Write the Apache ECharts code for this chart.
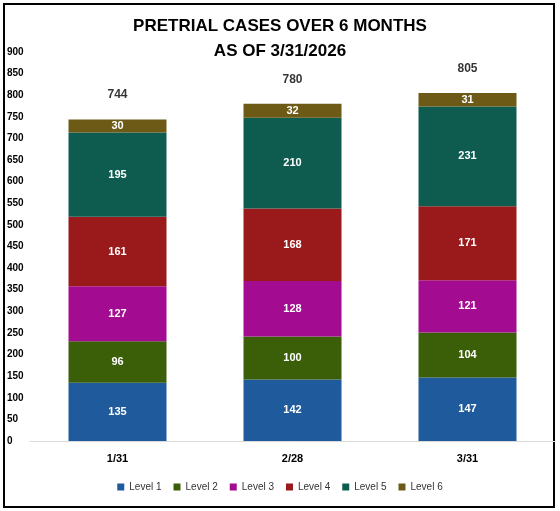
<!DOCTYPE html>
<html>
<head>
<meta charset="utf-8">
<script src="https://cdn.jsdelivr.net/npm/echarts@6/dist/echarts.min.js"></script>
<style>html,body{margin:0;padding:0;background:#fff}#c{width:560px;height:511px}</style>
</head>
<body>
<div id="c"></div>
<script>
const categories = ['1/31', '2/28', '3/31']
const level1 = [135, 142, 147]
const level2 = [96, 100, 104]
const level3 = [127, 128, 121]
const level4 = [161, 168, 171]
const level5 = [195, 210, 231]
const level6 = [30, 32, 31]
const totals = [744, 780, 805]

const levels = [
  { name: 'Level 1', data: level1, color: '#1F5A9C' },
  { name: 'Level 2', data: level2, color: '#3B5E08' },
  { name: 'Level 3', data: level3, color: '#A30B90' },
  { name: 'Level 4', data: level4, color: '#9A1A1C' },
  { name: 'Level 5', data: level5, color: '#0E5C4F' },
  { name: 'Level 6', data: level6, color: '#6D5A16' },
]

const chart = echarts.init(document.getElementById('c'))
const series = levels.map(l => ({
  name: l.name,
  type: 'bar',
  stack: 'all',
  barWidth: 98,
  data: l.data,
  itemStyle: { color: l.color },
  label: { show: true, color: '#fff', fontWeight: 'bold', fontSize: 11, fontFamily: 'Liberation Sans' },
}))
series.push({
  name: 'Total',
  type: 'scatter',
  data: totals,
  symbolSize: 1,
  itemStyle: { color: 'rgba(0,0,0,0)' },
  label: { show: true, position: 'top', distance: 18, color: '#000', fontWeight: 'bold', fontSize: 12, fontFamily: 'Liberation Sans' },
  labelLayout: { hideOverlap: false },
  z: 10,
})

chart.setOption({
  animation: false,
  title: {
    text: 'PRETRIAL CASES OVER 6 MONTHS\nAS OF 3/31/2026',
    left: 'center',
    top: 9,
    textStyle: { fontSize: 17, fontWeight: 900, color: '#000', fontFamily: 'Liberation Sans', lineHeight: 25 },
  },
  graphic: [{
    type: 'rect',
    shape: { x: 4, y: 4, width: 550, height: 503 },
    style: { fill: 'none', stroke: '#000', lineWidth: 2 },
  }],
  legend: {
    data: levels.map(l => l.name),
    bottom: 14,
    itemWidth: 7, itemHeight: 7,
    icon: 'rect',
    itemGap: 12,
    textStyle: { fontSize: 10, color: '#333', fontFamily: 'Liberation Sans' },
  },
  grid: { left: 30, right: 5, top: 52, bottom: 70 },
  xAxis: {
    type: 'category',
    data: categories,
    axisTick: { show: false },
    axisLine: { lineStyle: { color: '#d9d9d9' } },
    axisLabel: { color: '#000', fontWeight: 'bold', fontSize: 11, margin: 12, fontFamily: 'Liberation Sans' },
  },
  yAxis: {
    type: 'value',
    min: 0, max: 900, interval: 50,
    splitLine: { show: false },
    axisLabel: { color: '#000', fontWeight: 'bold', fontSize: 10, align: 'left', margin: 23, fontFamily: 'Liberation Sans' },
  },
  series,
})
</script>
</body>
</html>
